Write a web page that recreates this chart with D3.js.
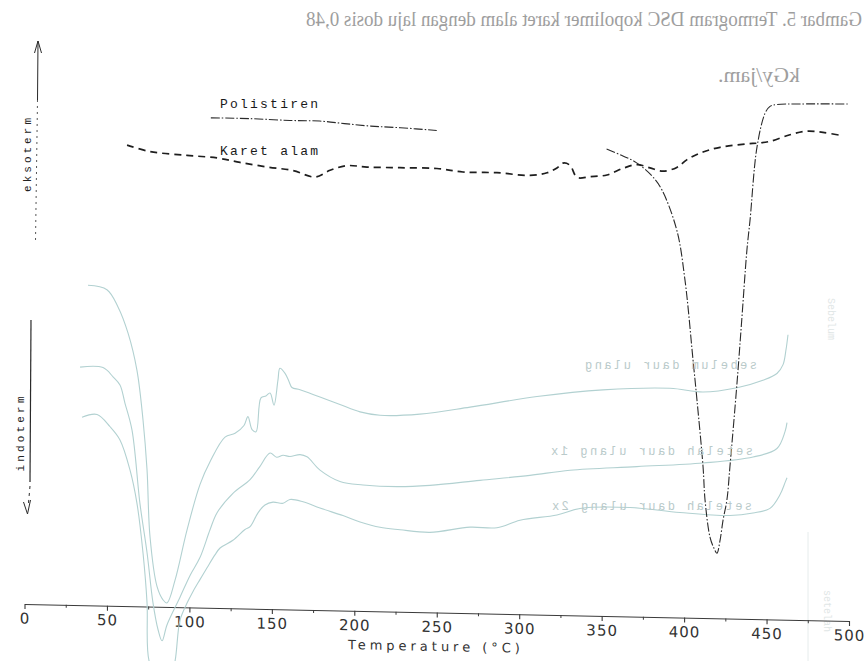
<!DOCTYPE html>
<html><head><meta charset="utf-8">
<script src="https://cdn.jsdelivr.net/npm/d3@7"></script>
<style>html,body{margin:0;padding:0;background:#fff;} svg{display:block}</style>
</head><body>
<svg id="chart" width="865" height="661"></svg>
<script>
// ---------- data (temperature °C, heat flow in arbitrary units) ----------
const xTicks = [0, 50, 100, 150, 200, 250, 300, 350, 400, 450, 500];
const xMinorTicks = [25, 75, 125, 175, 225, 275, 325, 375, 425, 475];
const seriesNames = ["Polistiren", "Karet alam", "sebelum daur ulang", "setelah daur ulang 1x", "setelah daur ulang 2x"];
const axisTitle = "Temperature (\u00B0C)";
const yLabels = ["eksoterm", "indoterm"];
const captionLines = ["Gambar 5. Termogram DSC kopolimer karet alam dengan laju dosis 0,48", "kGy/jam."];

// Polistiren (null = faded part of the trace)
const polistiren = [[113,49.0],[137,49.0],[161,48.9],[179,48.9],[194,48.7],[210,48.5],[228,48.4],[250,48.2],[300,null],
  [353,46.7],[362,46.1],[371,45.4],[380.5,44.1],[386.6,42.7],[395.6,38.7],[400.5,33.8],[405.4,25.8],[407.8,21.8],
  [411.5,15.1],[412.7,11.8],[415.7,8.1],[418.1,7.0],[419.9,6.5],[421.8,7.8],[423.6,9.8],[426.0,11.9],[427.8,15.2],
  [432.1,23.6],[435.1,30.2],[438.1,36.9],[440.0,39.9],[444.2,47.2],[449.1,50.6],[452.1,51.3],[456.3,51.5],[470.3,51.6],[500,51.7]];

// Karet alam
const karetAlam = [[62.2,46.1],[76.1,45.5],[98.5,45.2],[116.7,45.0],[130.7,44.6],[147.1,44.2],[162.8,43.9],[176.2,43.3],
  [185.3,44.0],[195.6,44.5],[207.7,44.4],[227.7,44.4],[250.1,44.4],[265.9,44.1],[286.5,44.1],[306.5,43.9],[316.9,44.2],
  [322.9,44.7],[326.6,45.2],[330.8,45.0],[335.1,43.8],[343.0,43.9],[353.2,44.1],[362.9,44.8],[371.4,45.2],[379.3,44.9],
  [387.2,44.6],[395.6,45.0],[401.8,45.8],[411.5,46.6],[421.8,47.1],[438.1,47.5],[444.8,47.6],[452.1,47.8],[464.2,48.5],
  [474.5,48.9],[484.2,48.8],[496.4,48.5]];

// sebelum daur ulang
const sebelum = [[38.5,32.0],[50.0,31.6],[56.7,29.9],[62.8,27.3],[68.2,23.6],[71.9,18.6],[74.3,13.7],[76.1,7.0],[80.4,2.0],
  [84.0,0.7],[86.4,0.4],[91.3,2.7],[98.5,7.7],[106.4,12.3],[112.5,14.6],[121.6,17.1],[127.7,17.5],[133.1,18.3],[135.5,19.2],
  [138.0,17.9],[140.4,17.7],[143.4,21.1],[146.4,21.3],[148.9,21.6],[151.3,20.4],[153.7,22.9],[154.9,24.1],[158.0,23.6],
  [160.4,22.8],[162.2,22.2],[167.1,22.0],[179.2,21.3],[191.3,20.6],[203.5,19.9],[215.6,19.6],[239.8,19.8],[270.2,20.6],
  [310.8,21.8],[350.8,22.6],[391.4,22.9],[411.5,22.6],[432.1,23.1],[447.8,23.9],[456.3,24.6],[460.0,25.5],[461.8,27.0],[463.0,28.5]];

// setelah daur ulang 1x
const setelah1x = [[33.7,23.8],[47.6,23.8],[53.7,22.9],[57.9,22.1],[60.9,20.3],[65.2,17.6],[70.0,10.3],[74.3,5.4],[77.9,0.4],
  [81.0,-2.3],[83.4,-3.4],[86.4,-1.8],[94.3,1.0],[100.4,3.2],[106.4,5.0],[112.5,7.8],[116.7,9.5],[126.4,11.5],[136.8,12.9],
  [142.6,14.2],[148.9,15.6],[152.9,15.2],[156.8,15.4],[161.0,15.3],[167.1,15.5],[171.3,15.3],[179.2,14.0],[191.3,12.9],
  [205.3,12.6],[225.9,12.5],[245.9,12.7],[276.2,13.3],[306.5,13.9],[330.8,14.5],[371.4,15.0],[411.5,15.5],[441.8,16.2],
  [456.3,17.1],[461.2,18.8],[462.4,19.7]];

// setelah daur ulang 2x
const setelah2x = [[34.9,18.8],[44.0,19.1],[51.9,17.9],[57.9,16.6],[64.0,13.6],[68.2,10.3],[71.9,5.3],[74.3,0.4],[75.5,-5.4],
  [81.0,-7.3],[85.2,-7.7],[88.8,-6.8],[91.3,-5.4],[94.3,-1.3],[98.5,0.4],[102.2,1.6],[106.4,2.8],[110.7,4.0],[115.5,5.3],
  [118.6,6.0],[126.4,6.8],[133.7,7.9],[136.8,8.2],[141.6,9.6],[145.8,10.4],[150.7,10.7],[156.8,10.6],[161.0,11.0],[168.9,10.8],
  [179.2,10.2],[193.1,9.5],[203.5,8.9],[215.6,8.4],[227.7,8.2],[245.9,8.0],[270.2,8.6],[286.5,8.6],[300.5,9.4],[322.9,10.0],
  [336.9,10.7],[367.2,10.9],[397.5,10.5],[427.8,10.3],[441.8,10.6],[452.1,11.1],[458.2,12.5],[461.2,13.7],[462.4,14.2]];

// ---------- drawing ----------
const svg = d3.select("#chart");
const x = d3.scaleLinear().domain([0, 500]).range([24.5, 849]);
const y = d3.scaleLinear().domain([-6, 56]).range([664, 44]);
const SK = 0.0206; // slight tilt of the scanned page

// mirrored caption (bleed-through from the other side of the page)
const cap = svg.append("g").attr("font-family", "Liberation Serif").attr("font-size", 21).attr("fill", "#9e9e9e");
cap.append("text").attr("transform", "translate(862,26) scale(-1,1)").attr("x", 0).attr("y", 0)
  .attr("textLength", 556).attr("lengthAdjust", "spacingAndGlyphs").text(captionLines[0]);
cap.append("text").attr("transform", "translate(800,82) scale(-1,1)").attr("x", 0).attr("y", 0)
  .attr("textLength", 82).attr("lengthAdjust", "spacingAndGlyphs").text(captionLines[1]);

// faint bleed-through marks on the right
const faint = svg.append("g").attr("fill", "#dfe6e6").attr("font-family", "Liberation Mono").attr("font-size", 10);
faint.append("text").attr("transform", "translate(828,298) rotate(90)").text("Sebelum");
faint.append("text").attr("transform", "translate(824,590) rotate(90)").text("setelah");
svg.append("line").attr("x1", 808).attr("y1", 532).attr("x2", 808).attr("y2", 661).attr("stroke", "#e6ecec").attr("stroke-width", 1);

const g = svg.append("g").attr("transform", `matrix(1,${SK},0,1,0,${-SK * 25})`);

// x axis
const ax = g.append("g").attr("transform", `translate(0,${y(0)})`)
  .call(d3.axisBottom(x).tickValues(xTicks).tickSize(5).tickSizeOuter(0).tickPadding(4).tickFormat(d3.format("d")));
ax.attr("font-family", "DejaVu Sans").attr("font-size", 15);
ax.select(".domain").attr("stroke", "#3a3a3a").attr("stroke-width", 1.1);
ax.selectAll(".tick line").attr("stroke", "#3a3a3a").attr("stroke-width", 1.1);
ax.selectAll(".tick text").attr("fill", "#333").attr("letter-spacing", 1);
const axm = g.append("g").attr("transform", `translate(0,${y(0)})`)
  .call(d3.axisBottom(x).tickValues(xMinorTicks).tickSize(3).tickSizeOuter(0).tickFormat(""));
axm.select(".domain").remove();
axm.selectAll(".tick line").attr("stroke", "#3a3a3a");

g.append("text").attr("x", x(248.3)).attr("y", y(0) + 38.5).attr("text-anchor", "middle")
  .attr("font-family", "DejaVu Sans").attr("font-size", 13).attr("fill", "#333")
  .attr("textLength", 172).attr("lengthAdjust", "spacing").text(axisTitle);

const line = d3.line().defined(d => d[1] !== null).x(d => x(d[0])).y(d => y(d[1])).curve(d3.curveCatmullRom.alpha(0.5));

const teal = "#b2d1d1";
[sebelum, setelah1x, setelah2x].forEach(s => {
  g.append("path").datum(s).attr("d", line).attr("fill", "none").attr("stroke", teal).attr("stroke-width", 1.1);
});

g.append("path").datum(polistiren).attr("d", line).attr("fill", "none").attr("stroke", "#2a2a2a")
  .attr("stroke-width", 1.1).attr("stroke-dasharray", "9,2,1.5,2");
g.append("path").datum(karetAlam).attr("d", line).attr("fill", "none").attr("stroke", "#1e1e1e")
  .attr("stroke-width", 1.7).attr("stroke-dasharray", "7,5");

// series labels
const lab = svg.append("g").attr("font-family", "Liberation Mono").attr("font-size", 13).attr("fill", "#1a1a1a");
lab.append("text").attr("x", 220).attr("y", 108).attr("textLength", 98).attr("lengthAdjust", "spacing").text(seriesNames[0]);
lab.append("text").attr("x", 220).attr("y", 155).attr("textLength", 98).attr("lengthAdjust", "spacing").text(seriesNames[1]);

// mirrored teal labels
const tl = svg.append("g").attr("font-family", "Liberation Mono").attr("font-size", 12).attr("fill", "#b9caca");
tl.append("text").attr("transform", "translate(757,369) scale(-1,1)").attr("textLength", 172).attr("lengthAdjust", "spacing").text(seriesNames[2]);
tl.append("text").attr("transform", "translate(753,455) scale(-1,1)").attr("textLength", 202).attr("lengthAdjust", "spacing").text(seriesNames[3]);
tl.append("text").attr("transform", "translate(752,510) scale(-1,1)").attr("textLength", 200).attr("lengthAdjust", "spacing").text(seriesNames[4]);

// y direction arrows and labels
const ya = svg.append("g").attr("fill", "none").attr("stroke", "#2a2a2a").attr("stroke-width", 1);
ya.append("path").attr("d", "M38,41 L37.5,100");
ya.append("path").attr("d", "M37.5,100 L35.5,242").attr("stroke-dasharray", "2,4").attr("stroke", "#555");
ya.append("path").attr("d", "M34.5,53 L38,41 L41.5,53");
ya.append("path").attr("d", "M31,320 L30,482").attr("stroke-width", 1.2);
ya.append("path").attr("d", "M30,486 L28.5,503").attr("stroke-dasharray", "3,4");
ya.append("path").attr("d", "M23.5,502 L27.5,514 L30.5,500");

const yl = svg.append("g").attr("font-family", "Liberation Mono").attr("font-size", 11).attr("fill", "#222").attr("text-anchor", "middle");
yl.append("text").attr("transform", "translate(31,155) rotate(-90)").attr("textLength", 74).attr("lengthAdjust", "spacing").text(yLabels[0]);
yl.append("text").attr("transform", "translate(24,434) rotate(-90)").attr("textLength", 75).attr("lengthAdjust", "spacing").text(yLabels[1]);
</script>
</body></html>
